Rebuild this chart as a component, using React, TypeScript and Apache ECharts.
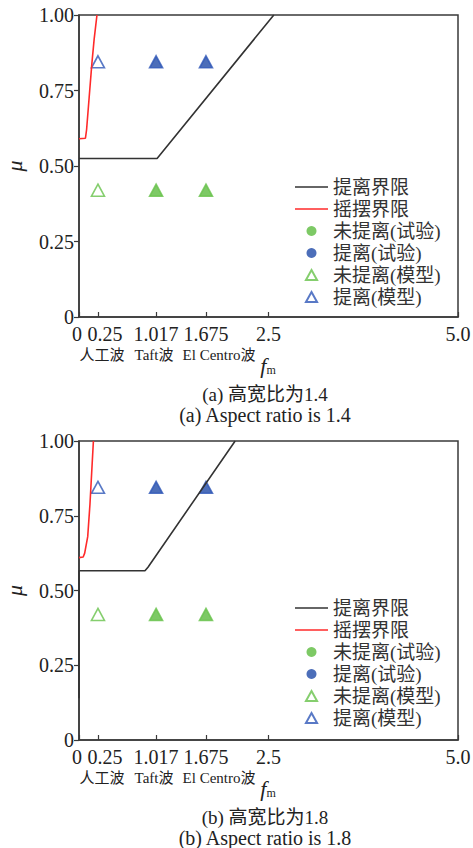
import React, { useEffect, useRef } from "react";
import * as echarts from "echarts";

// ---- data ----
const xTicks = [0, 0.25, 1.017, 1.675, 2.5, 5.0];
const xTickLabels = ["0", "0.25", "1.017", "1.675", "2.5", "5.0"];
const waveNames = ["人工波", "Taft波", "El Centro波"];
const captionsA = ["(a) 高宽比为1.4", "(a) Aspect ratio is 1.4"];
const captionsB = ["(b) 高宽比为1.8", "(b) Aspect ratio is 1.8"];
const seriesNames = ["提离界限", "摇摆界限", "未提离(试验)", "提离(试验)", "未提离(模型)", "提离(模型)"];

// chart (a): aspect ratio 1.4
const liftA = [[0, 0.525], [1.03, 0.525], [2.57, 1.0]];
const rockA = [[0, 0.59], [0.085, 0.592], [0.1, 0.62], [0.135, 0.73], [0.17, 0.84], [0.2, 0.92], [0.237, 1.0]];
// chart (b): aspect ratio 1.8
const liftB = [[0, 0.14], [0, 0.566], [0.87, 0.566], [0.91, 0.578], [2.06, 1.0]];
const rockB = [[0, 0.61], [0.055, 0.612], [0.075, 0.625], [0.115, 0.68], [0.145, 0.79], [0.19, 1.0]];

// scatter points (same for both charts)
const testNoLift = [[1.017, 0.42], [1.675, 0.42]];
const testLift = [[1.017, 0.845], [1.675, 0.845]];
const modelNoLift = [[0.25, 0.42], [1.017, 0.42], [1.675, 0.42]];
const modelLift = [[0.25, 0.845], [1.017, 0.845], [1.675, 0.845]];

const SERIF = "'Liberation Serif', 'Noto Sans CJK SC', serif";
const AXIS_C = "#3a3a3a";
const TXT_C = "#222";
const BLACK_L = "#333";
const RED_L = "#ff2a2a";
const GREEN = "#5cbb3f";
const BLUE = "#1f4aa8";
const BLUE_T = "#3058b8";
const GREEN_T = "#66c24a";

const LINE_ICON = "path://M0 0 H33 V1.5 H0 Z";
const TRI_ICON = "path://M5 0 L10 9 L0 9 Z";

const labelFor = (v: number) => {
  const i = xTicks.findIndex((t) => Math.abs(t - v) < 1e-6);
  return i >= 0 ? xTickLabels[i] : "";
};

function buildAxes(gi: number) {
  const labelRich = {
    p: { fontFamily: SERIF, fontSize: 20, color: TXT_C, padding: [0, 0, 0, 14] },
    z: { fontFamily: SERIF, fontSize: 20, color: TXT_C, padding: [0, 4, 0, 0] },
  };
  const xAxis = {
    type: "value",
    gridIndex: gi,
    min: 0,
    max: 5,
    axisLine: { show: true, lineStyle: { color: AXIS_C, width: 1.5 } },
    axisTick: { show: true, inside: true, length: 5, customValues: xTicks, lineStyle: { color: AXIS_C, width: 1.2 } },
    axisLabel: {
      customValues: xTicks.slice(1),
      showMinLabel: true,
      showMaxLabel: true,
      hideOverlap: false,
      formatter: (v: number) => {
        const s = labelFor(v);
        return Math.abs(v - 0.25) < 1e-6 ? `{p|${s}}` : s;
      },
      rich: labelRich,
      fontFamily: SERIF,
      fontSize: 20,
      color: TXT_C,
      margin: 7,
    },
    splitLine: { show: false },
  };
  // companion axis carrying only the "0" label of the x axis
  const xZero = {
    type: "value",
    gridIndex: gi,
    position: "bottom",
    min: 0,
    max: 5,
    axisLine: { show: false },
    axisTick: { show: false },
    splitLine: { show: false },
    axisLabel: {
      customValues: [xTicks[0]],
      showMinLabel: true,
      formatter: (v: number) => `{z|${labelFor(v)}}`,
      rich: labelRich,
      fontFamily: SERIF,
      fontSize: 20,
      color: TXT_C,
      margin: 7,
    },
  };
  const yAxis = {
    type: "value",
    gridIndex: gi,
    min: 0,
    max: 1,
    interval: 0.25,
    axisLine: { show: true, lineStyle: { color: AXIS_C, width: 1.5 } },
    axisTick: { show: true, inside: false, length: 5, lineStyle: { color: AXIS_C, width: 1.2 } },
    axisLabel: {
      showMinLabel: true,
      showMaxLabel: true,
      hideOverlap: false,
      formatter: (v: number) => (v === 0 ? "0" : v.toFixed(2)),
      fontFamily: SERIF,
      fontSize: 20,
      color: TXT_C,
      margin: 5,
    },
    splitLine: { show: false },
    name: "μ",
    nameLocation: "middle",
    nameGap: 54,
    nameMoveOverlap: false,
    nameTextStyle: { fontFamily: SERIF, fontStyle: "italic", fontSize: 22, color: TXT_C },
  };
  return { xAxis, xZero, yAxis };
}

function buildSeries(gi: number, lift: number[][], rock: number[][]) {
  const xi = gi * 2;
  return [
    {
      name: seriesNames[0], type: "line", xAxisIndex: xi, yAxisIndex: gi, data: lift,
      symbol: "none", lineStyle: { color: BLACK_L, width: 1.6 }, itemStyle: { color: BLACK_L },
    },
    {
      name: seriesNames[1], type: "line", xAxisIndex: xi, yAxisIndex: gi, data: rock,
      symbol: "none", lineStyle: { color: RED_L, width: 1.6 }, itemStyle: { color: RED_L },
    },
    {
      name: seriesNames[2], type: "scatter", xAxisIndex: xi, yAxisIndex: gi, data: testNoLift,
      symbol: "triangle", symbolSize: [13, 12], itemStyle: { color: GREEN },
    },
    {
      name: seriesNames[3], type: "scatter", xAxisIndex: xi, yAxisIndex: gi, data: testLift,
      symbol: "triangle", symbolSize: [13, 12], itemStyle: { color: BLUE },
    },
    {
      name: seriesNames[4], type: "scatter", xAxisIndex: xi, yAxisIndex: gi, data: modelNoLift,
      symbol: "triangle", symbolSize: [13, 12],
      itemStyle: { color: "rgba(255,255,255,0)", borderColor: GREEN_T, borderWidth: 1.6 },
    },
    {
      name: seriesNames[5], type: "scatter", xAxisIndex: xi, yAxisIndex: gi, data: modelLift,
      symbol: "triangle", symbolSize: [13, 12],
      itemStyle: { color: "rgba(255,255,255,0)", borderColor: BLUE_T, borderWidth: 1.6 },
    },
  ];
}

function legendAt(top: number) {
  const icons = [LINE_ICON, LINE_ICON, "circle", "circle", TRI_ICON, TRI_ICON];
  return {
    orient: "vertical",
    left: 290,
    top,
    itemWidth: 33,
    itemHeight: 10,
    itemGap: 2,
    data: seriesNames.map((n, i) => ({ name: n, icon: icons[i] })),
    textStyle: { fontFamily: SERIF, fontSize: 19, color: "#333", lineHeight: 20 },
  };
}

function texts(base: number, caps: string[]) {
  const wx = [102, 154, 219];
  const out: any[] = waveNames.map((w, i) => ({
    type: "text",
    x: wx[i],
    y: base + 38,
    style: { text: w, fontFamily: SERIF, fontSize: 15, fill: TXT_C, align: "center", verticalAlign: "middle" },
  }));
  // x-axis name f_m (italic f with subscript m)
  out.push({
    type: "text", x: 268, y: base + 48,
    style: {
      text: "{f|f}{m|m}", align: "center", verticalAlign: "middle",
      rich: {
        f: { fontFamily: SERIF, fontStyle: "italic", fontSize: 22, fill: TXT_C, lineHeight: 22, verticalAlign: "middle" },
        m: { fontFamily: SERIF, fontSize: 12, fill: TXT_C, lineHeight: 12, verticalAlign: "bottom" },
      },
    },
  });
  out.push({
    type: "text", x: 265, y: base + 77,
    style: { text: caps[0], fontFamily: SERIF, fontSize: 19, fill: TXT_C, align: "center", verticalAlign: "middle" },
  });
  out.push({
    type: "text", x: 265, y: base + 98,
    style: { text: caps[1], fontFamily: SERIF, fontSize: 20, fill: TXT_C, align: "center", verticalAlign: "middle" },
  });
  return out;
}

export default function App() {
  const ref = useRef<HTMLDivElement>(null);
  useEffect(() => {
    if (!ref.current) return;
    const chart = echarts.init(ref.current, undefined, { renderer: "svg" });
    const a = buildAxes(0);
    const b = buildAxes(1);
    const gridCommon = { show: true, borderColor: AXIS_C, borderWidth: 1.5, backgroundColor: "transparent", containLabel: false, outerBoundsMode: "none" };
    chart.setOption({
      animation: false,
      backgroundColor: "#fff",
      textStyle: { fontFamily: SERIF },
      grid: [
        { left: 79, top: 15, width: 379, height: 302, ...gridCommon },
        { left: 79, top: 441, width: 379, height: 299, ...gridCommon },
      ],
      xAxis: [a.xAxis, a.xZero, b.xAxis, b.xZero],
      yAxis: [a.yAxis, b.yAxis],
      legend: [legendAt(172), legendAt(593)],
      series: [...buildSeries(0, liftA, rockA), ...buildSeries(1, liftB, rockB)],
      graphic: [...texts(317, captionsA), ...texts(740, captionsB)],
    });
    return () => chart.dispose();
  }, []);
  return <div ref={ref} style={{ position: "absolute", left: 0, top: 0, width: 473, height: 848 }} />;
}
